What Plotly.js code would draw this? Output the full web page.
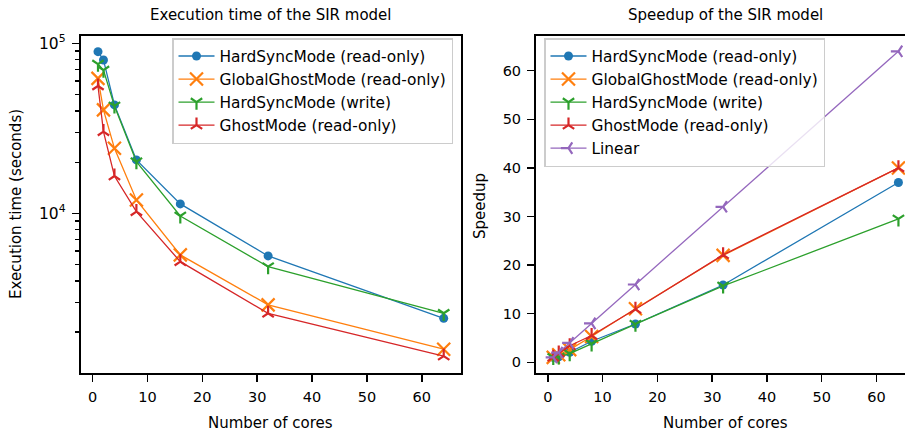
<!DOCTYPE html>
<html>
<head>
<meta charset="utf-8">
<script src="https://cdn.plot.ly/plotly-3.0.1.min.js"></script>
<style>
html, body { margin: 0; padding: 0; overflow: hidden; background: #fff; }
#chart { width: 930px; height: 433px; }
</style>
</head>
<body>
<div id="chart"></div>
<script>
// ---- data ----
const cores = [1, 2, 4, 8, 16, 32, 64];

const timeHardSyncRead  = [89300, 79800, 43400, 20600, 11350, 5610, 2410];
const timeGlobalGhost   = [62200, 40600, 24100, 11970, 5690, 2890, 1585];
const timeHardSyncWrite = [75500, 69600, 42800, 20100, 9640, 4850, 2580];
const timeGhost         = [56100, 30200, 16560, 10220, 5190, 2580, 1445];

const speedHardSyncRead  = [1, 1.12, 2.06, 4.33, 7.87, 15.9, 37.0];
const speedGlobalGhost   = [1, 1.55, 2.6, 5.3, 11.0, 22.0, 40.0];
const speedHardSyncWrite = [1, 1.08, 1.77, 3.8, 7.85, 15.7, 29.5];
const speedGhost         = [1, 1.86, 3.39, 5.5, 10.9, 22.1, 40.0];
const speedLinear        = [1, 2, 4, 8, 16, 32, 64];

const seriesNames = ["HardSyncMode (read-only)", "GlobalGhostMode (read-only)",
                     "HardSyncMode (write)", "GhostMode (read-only)", "Linear"];

const logTickVals = [10000, 100000];
const logTickText = ["10<sup>4</sup>", "10<sup>5</sup>"];
const logMinorVals = [2000, 3000, 4000, 5000, 6000, 7000, 8000, 9000,
                      20000, 30000, 40000, 50000, 60000, 70000, 80000, 90000];
const linTickVals = [0, 10, 20, 30, 40, 50, 60];

// ---- styling ----
const W = 930, H = 433;
const colors = ["#1f77b4", "#ff7f0e", "#2ca02c", "#d62728", "#9467bd"];
const symbols = ["circle", "x-thin", "y-down", "y-up", "y-left"];
const msize = [9, 13, 9.5, 9.5, 9.5];
const FONT = "DejaVu Sans";
const FS = 15;

function trace(i, y, xa, ya, leg, showLeg) {
  const isLineSym = i > 0;
  return {
    x: cores, y: y, type: "scatter", mode: "lines+markers",
    name: seriesNames[i], xaxis: xa, yaxis: ya, legend: leg, showlegend: showLeg,
    line: {color: colors[i], width: 1.3},
    marker: {
      symbol: symbols[i], size: msize[i], color: colors[i],
      line: isLineSym ? {color: colors[i], width: 2.2} : {width: 0}
    }
  };
}

const data = [
  trace(0, timeHardSyncRead, "x", "y", "legend", true),
  trace(1, timeGlobalGhost, "x", "y", "legend", true),
  trace(2, timeHardSyncWrite, "x", "y", "legend", true),
  trace(3, timeGhost, "x", "y", "legend", true),
  trace(0, speedHardSyncRead, "x2", "y2", "legend2", true),
  trace(1, speedGlobalGhost, "x2", "y2", "legend2", true),
  trace(2, speedHardSyncWrite, "x2", "y2", "legend2", true),
  trace(3, speedGhost, "x2", "y2", "legend2", true),
  trace(4, speedLinear, "x2", "y2", "legend2", true)
];

const px = v => v / W;
const py = v => 1 - v / H;

const axBase = {
  showline: true, linewidth: 2, linecolor: "#000", mirror: true,
  ticks: "outside", ticklen: 7, tickwidth: 1.5, tickcolor: "#000",
  ticklabelstandoff: 3,
  showgrid: false, zeroline: false,
  tickfont: {family: FONT, size: 14.5, color: "#000"}
};

const legBase = {
  xanchor: "left", yanchor: "top", itemwidth: 36,
  bgcolor: "rgba(255,255,255,0.8)", bordercolor: "#cccccc", borderwidth: 1.5,
  font: {family: FONT, size: 15.4, color: "#000"}
};

const layout = {
  width: W, height: H,
  margin: {l: 0, r: 0, t: 0, b: 0, autoexpand: false},
  paper_bgcolor: "#fff", plot_bgcolor: "#fff",
  font: {family: FONT, size: FS, color: "#000"},
  xaxis: Object.assign({}, axBase, {
    domain: [px(80.7), px(461)], range: [-2.15, 67.15],
    tickmode: "array", tickvals: linTickVals, anchor: "y"
  }),
  yaxis: Object.assign({}, axBase, {
    domain: [1 - 372.7 / H, 1 - 36 / H], type: "log", range: [3.062, 5.043],
    tickmode: "array", tickvals: logTickVals, ticktext: logTickText, anchor: "x",
    tickfont: {family: FONT, size: 15.5, color: "#000"},
    minor: {tickmode: "array", tickvals: logMinorVals, ticks: "outside", ticklen: 4, tickwidth: 1.2, tickcolor: "#000", showgrid: false}
  }),
  xaxis2: Object.assign({}, axBase, {
    domain: [px(536), px(915.7)], range: [-2.15, 67.15],
    tickmode: "array", tickvals: linTickVals, anchor: "y2"
  }),
  yaxis2: Object.assign({}, axBase, {
    domain: [1 - 372.7 / H, 1 - 36 / H], range: [-2.15, 67.15],
    tickmode: "array", tickvals: linTickVals, anchor: "x2"
  }),
  legend: Object.assign({}, legBase, {x: px(172), y: py(38)}),
  legend2: Object.assign({}, legBase, {x: px(544), y: py(38)}),
  annotations: [
    {text: "Execution time of the SIR model", x: px(270.9), y: py(15), xref: "paper", yref: "paper",
     xanchor: "center", yanchor: "middle", showarrow: false, font: {family: FONT, size: FS, color: "#000"}},
    {text: "Speedup of the SIR model", x: px(725.9), y: py(15), xref: "paper", yref: "paper",
     xanchor: "center", yanchor: "middle", showarrow: false, font: {family: FONT, size: FS, color: "#000"}},
    {text: "Number of cores", x: px(270.9), y: py(423), xref: "paper", yref: "paper",
     xanchor: "center", yanchor: "middle", showarrow: false, font: {family: FONT, size: FS, color: "#000"}},
    {text: "Number of cores", x: px(725.9), y: py(423), xref: "paper", yref: "paper",
     xanchor: "center", yanchor: "middle", showarrow: false, font: {family: FONT, size: FS, color: "#000"}},
    {text: "Execution time (seconds)", x: px(16), y: py(204), xref: "paper", yref: "paper", textangle: -90,
     xanchor: "center", yanchor: "middle", showarrow: false, font: {family: FONT, size: FS, color: "#000"}},
    {text: "Speedup", x: px(480), y: py(206), xref: "paper", yref: "paper", textangle: -90,
     xanchor: "center", yanchor: "middle", showarrow: false, font: {family: FONT, size: FS, color: "#000"}}
  ]
};

Plotly.newPlot("chart", data, layout, {displayModeBar: false, staticPlot: true});
</script>
</body>
</html>
